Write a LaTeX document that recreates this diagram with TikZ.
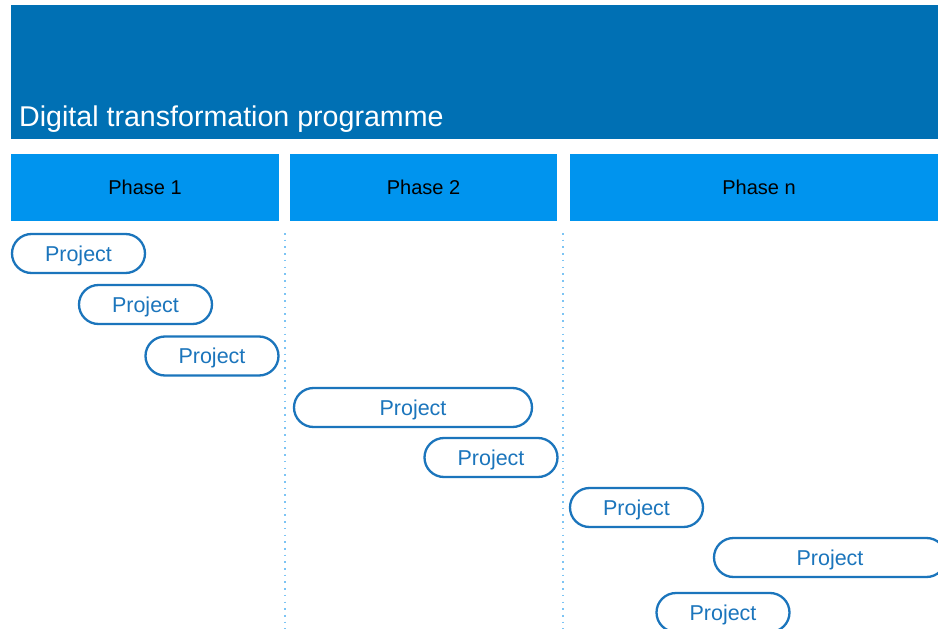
\documentclass[tikz,border=0pt]{standalone}
\usepackage{fontspec}
\setmainfont{Liberation Sans}
\usetikzlibrary{shapes.misc}
\definecolor{banner}{HTML}{0070B4}
\definecolor{phasebg}{HTML}{0094EE}
\definecolor{pillblue}{HTML}{1B75BC}
\definecolor{dotblue}{HTML}{7CC4F4}
\tikzset{
  phasebox/.style={fill=phasebg, draw=none, inner sep=0pt, minimum height=67pt,
    font=\fontsize{20}{22}\selectfont, text=black, text height=14.3pt, text depth=0pt},
  pill/.style={rounded rectangle, draw=pillblue, line width=2.3pt, fill=white,
    minimum height=39pt, inner sep=0pt, text=pillblue, text height=15.4pt, text depth=0pt,
    font=\fontsize{21.5}{23}\selectfont},
  sep/.style={dotblue, line width=1.6pt, dash pattern=on 1.6pt off 5.1pt}
}
\begin{document}
\begin{tikzpicture}[x=1pt,y=-1pt]
\useasboundingbox (0,0) rectangle (938,629);
\clip (0,0) rectangle (938,629);
\fill[white] (0,0) rectangle (938,629);
% banner
\node[fill=banner, minimum width=932pt, minimum height=134pt, inner sep=0pt, anchor=north west] (banner) at (11,5) {};
\node[anchor=base west, text=white, font=\fontsize{28.6}{30}\selectfont, inner sep=0pt] (title) at (19,126) {Digital transformation programme};
% phases
\node[phasebox, minimum width=268pt] (ph1) at (145,187.5) {Phase 1};
\node[phasebox, minimum width=267pt] (ph2) at (423.5,187.5) {Phase 2};
\node[phasebox, minimum width=380pt, anchor=west] (phn) at (570,187.5) {};
\node[font=\fontsize{20}{22}\selectfont, text height=14.3pt, text depth=0pt, inner sep=0pt] (phnlabel) at (759,187.5) {Phase n};
% separators
\coordinate (s1a) at (285,233); \coordinate (s1b) at (285,629);
\coordinate (s2a) at (563,233); \coordinate (s2b) at (563,629);
\draw[sep] (s1a) -- (s1b);
\draw[sep] (s2a) -- (s2b);
% projects
\node[pill, minimum width=133pt] (p1) at (78.5,253.5) {Project};
\node[pill, minimum width=133pt] (p2) at (145.5,304.5) {Project};
\node[pill, minimum width=133pt] (p3) at (212,356) {Project};
\node[pill, minimum width=238pt] (p4) at (413,407.5) {Project};
\node[pill, minimum width=133pt] (p5) at (491,457.5) {Project};
\node[pill, minimum width=133pt] (p6) at (636.5,507.5) {Project};
\node[pill, minimum width=232pt] (p7) at (830,557.5) {Project};
\node[pill, minimum width=133pt] (p8) at (723,612.5) {Project};
\end{tikzpicture}
\end{document}
